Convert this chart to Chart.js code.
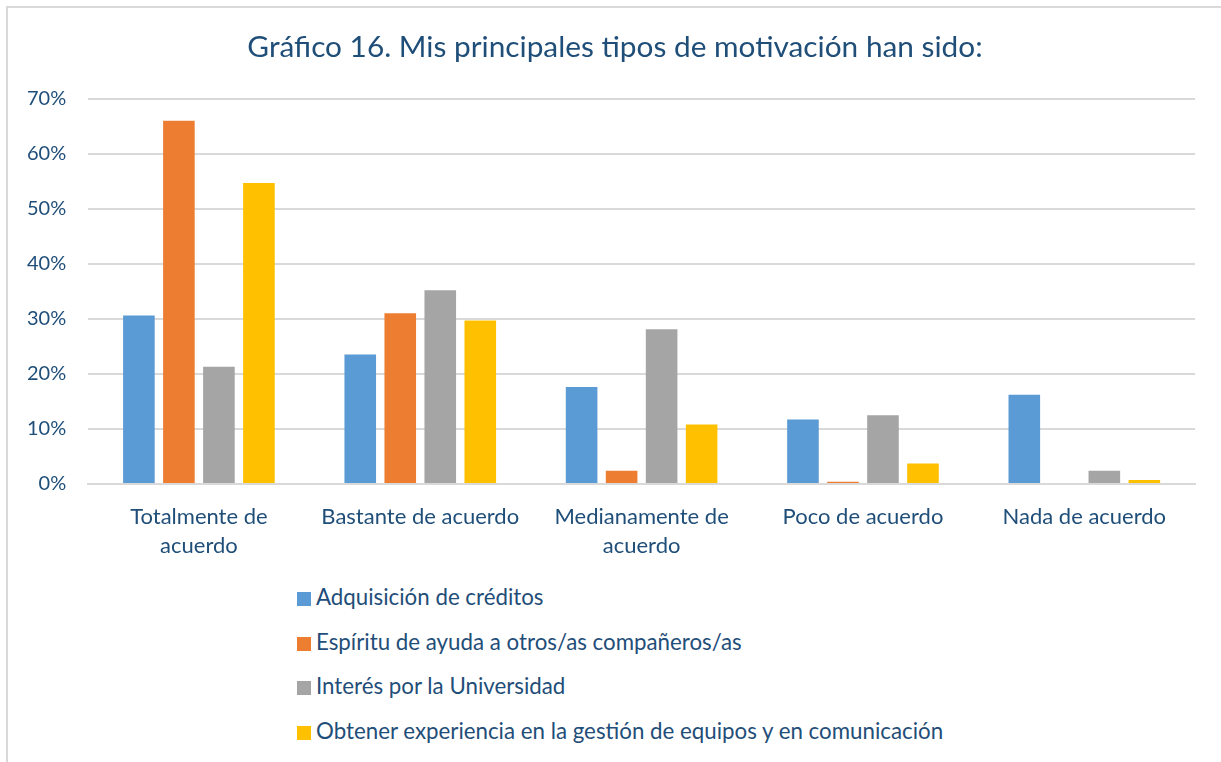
<!DOCTYPE html>
<html lang="es">
<head>
<meta charset="utf-8">
<title>Gráfico 16</title>
<script src="https://cdn.jsdelivr.net/npm/chart.js@4.4.1/dist/chart.umd.min.js"></script>
<style>
  html, body { margin: 0; padding: 0; background: #fff; }
  body { width: 1221px; height: 762px; overflow: hidden; position: relative; font-family: Lato, "Open Sans", sans-serif; }
  .frame { position: absolute; left: 6px; top: 6px; width: 1300px; height: 900px; border-left: 2px solid #D9D9D9; border-top: 2px solid #D9D9D9; }
  .chart-box { position: absolute; left: 0; top: 0; width: 1221px; height: 572px; }
  #legend { position: absolute; left: 297px; top: 582px; margin: 0; padding: 0; list-style: none; }
  #legend li { height: 44.7px; line-height: 30px; font-size: 22.3px; color: #1F4E79; white-space: nowrap; }
  #legend .box { display: inline-block; width: 14px; height: 14px; margin-right: 5px; vertical-align: -1px; }
</style>
</head>
<body>
<div class="frame"></div>
<div class="chart-box"><canvas id="motivChart"></canvas></div>
<ul id="legend"></ul>

<script>
// =============== DATA ===============

const categories = [
  ["Totalmente de", "acuerdo"],
  "Bastante de acuerdo",
  ["Medianamente de", "acuerdo"],
  "Poco de acuerdo",
  "Nada de acuerdo",
];

const seriesNames = [
  "Adquisición de créditos",
  "Espíritu de ayuda a otros/as compañeros/as",
  "Interés por la Universidad",
  "Obtener experiencia en la gestión de equipos y en comunicación",
];

// values in %
const creditos = [30.6, 23.5, 17.6, 11.7, 16.2];
const ayuda = [66.0, 31.0, 2.4, 0.4, 0.0];
const universidad = [21.3, 35.2, 28.1, 12.5, 2.4];
const experiencia = [54.7, 29.7, 10.8, 3.7, 0.7];

const yTicks = [0, 10, 20, 30, 40, 50, 60, 70];

const colors = ["#5B9BD5", "#ED7D31", "#A5A5A5", "#FFC000"];
const textColor = "#1F4E79";


// =============== CHART ===============

// the original title sits a bit right of the canvas centre
const shiftTitle = {
  id: "shiftTitle",
  afterLayout(chart) {
    if (chart.titleBlock) {
      chart.titleBlock.left += 15;
      chart.titleBlock.right += 15;
    }
  },
};

function loadChart() {
  const ctx = document.getElementById("motivChart");
  const values = [creditos, ayuda, universidad, experiencia];

  const chart = new Chart(ctx, {
    type: "bar",
    data: {
      labels: categories,
      datasets: seriesNames.map((name, i) => ({
        label: name,
        data: values[i],
        backgroundColor: colors[i],
        barPercentage: 0.79,
        categoryPercentage: 0.723,
      })),
    },
    options: {
      responsive: true,
      maintainAspectRatio: false,
      animation: false,
      layout: { padding: { left: 5, right: 26, top: 0, bottom: 2 } },
      plugins: {
        legend: { display: false },
        tooltip: { enabled: false },
        title: {
          display: true,
          text: "Gráfico 16. Mis principales tipos de motivación han sido:",
          color: textColor,
          font: { family: "Lato", size: 29.8, weight: "normal" },
          padding: { top: 30, bottom: 33 },
        },
      },
      scales: {
        x: {
          grid: { display: false },
          border: { color: "#D9D9D9", width: 2 },
          ticks: {
            color: textColor,
            font: { family: "Lato", size: 22, lineHeight: 1.32 },
            padding: 10,
            maxRotation: 0,
            autoSkip: false,
          },
        },
        y: {
          min: 0,
          max: 70,
          afterBuildTicks: (scale) => {
            scale.ticks = yTicks.map((v) => ({ value: v }));
          },
          grid: { color: "#D9D9D9", lineWidth: 2, drawTicks: false },
          border: { display: false },
          ticks: {
            color: textColor,
            font: { family: "Lato", size: 20 },
            padding: 22,
            callback: (v) => v + "%",
          },
        },
      },
    },
    plugins: [shiftTitle],
  });

  // legend as a vertical list, like the original
  const list = document.getElementById("legend");
  chart.options.plugins.legend.labels.generateLabels(chart).forEach((item) => {
    const li = document.createElement("li");
    const box = document.createElement("span");
    box.className = "box";
    box.style.background = item.fillStyle;
    li.appendChild(box);
    li.appendChild(document.createTextNode(item.text));
    list.appendChild(li);
  });
}

document.addEventListener("DOMContentLoaded", loadChart);
</script>
</body>
</html>
